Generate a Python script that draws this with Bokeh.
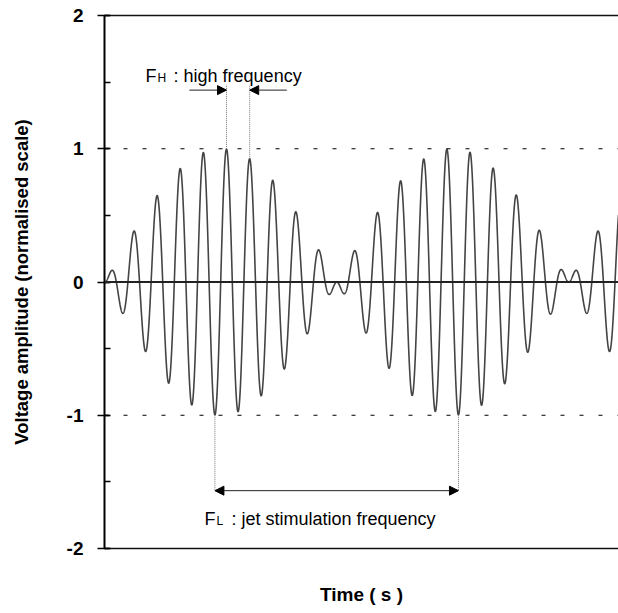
import numpy as np
from bokeh.plotting import figure
from bokeh.models import (Span, Label, Arrow, NormalHead, LinearAxis, SingleIntervalTicker,
                          FixedTicker, Range1d, ColumnDataSource)
from bokeh.embed import file_html
from bokeh.resources import INLINE

# ---- values (time in ms, arbitrary units) ----
T_H = 1.0            # period of the high-frequency carrier (F_H)
T_L = 10.0           # period of the envelope (F_L, jet stimulation)
t_env_max = 5.02     # time of envelope maximum
t_carrier_peak = 5.26  # time of the marked carrier peak
t_start, t_end = 0.0, 22.16
y_ticks = [-2, -1, 0, 1, 2]
y_tick_labels = ["-2", "-1", "0", "1", "2"]
y_ref_lines = [-1, 1]
x_label = "Time ( s )"
y_label = "Voltage amplitude (normalised scale)"
fh_text = ": high frequency"
fl_text = ": jet stimulation frequency"

t = np.linspace(t_start, t_end, 4000)
v = np.cos(2 * np.pi * (t - t_carrier_peak) / T_H) * np.cos(np.pi * (t - t_env_max) / T_L)
src = ColumnDataSource(dict(t=t, v=v))

FONT = "Liberation Sans"

p = figure(width=618, height=613, x_range=Range1d(t_start, t_end), y_range=Range1d(-2, 2),
           output_backend="svg", toolbar_location=None,
           min_border_left=104, min_border_right=0, min_border_top=15, min_border_bottom=65)
p.outline_line_color = None
p.grid.visible = False
p.background_fill_color = "white"
p.border_fill_color = "white"

# x axis (bottom line only, label)
xa = p.xaxis[0]
xa.ticker = FixedTicker(ticks=[])
xa.major_label_text_font_size = "0px"
xa.axis_line_color = "#111111"
xa.axis_line_width = 1.6
xa.axis_label = x_label
xa.axis_label_text_font = FONT
xa.axis_label_text_font_style = "bold"
xa.axis_label_text_font_size = "19px"
xa.axis_label_text_color = "black"
xa.axis_label_standoff = 35

# top line
top = LinearAxis(ticker=FixedTicker(ticks=[]), major_label_text_font_size="0px",
                 axis_line_color="#111111", axis_line_width=1.6)
p.add_layout(top, "above")

# y axis
ya = p.yaxis[0]
ya.ticker = SingleIntervalTicker(interval=1, num_minor_ticks=2)
ya.major_label_overrides = {v_: s for v_, s in zip(y_ticks, y_tick_labels)}
ya.axis_line_color = "black"
ya.axis_line_width = 2
ya.major_tick_line_color = "black"
ya.major_tick_line_width = 1.5
ya.major_tick_in = 5
ya.major_tick_out = 7
ya.minor_tick_line_color = "black"
ya.minor_tick_line_width = 1.5
ya.minor_tick_in = 6
ya.minor_tick_out = 0
ya.major_label_text_font = FONT
ya.major_label_text_font_style = "bold"
ya.major_label_text_font_size = "19px"
ya.major_label_text_color = "black"
ya.major_label_standoff = 14
ya.axis_label = y_label
ya.axis_label_text_font = FONT
ya.axis_label_text_font_style = "bold"
ya.axis_label_text_font_size = "18.5px"
ya.axis_label_text_color = "black"
ya.axis_label_standoff = 32

# reference lines
for yv in y_ref_lines:
    p.add_layout(Span(location=yv, dimension="width", line_color="black", line_width=1,
                      line_dash="4 15"))
p.add_layout(Span(location=0, dimension="width", line_color="#222222", line_width=2.2))

# signal
p.line("t", "v", source=src, line_color="#444444", line_width=1.6)

# ---- F_H annotation ----
def sig(tt):
    return np.cos(2 * np.pi * (tt - t_carrier_peak) / T_H) * np.cos(np.pi * (tt - t_env_max) / T_L)

fh_y = 1.44
fh_top = 1.48
pk1 = t_carrier_peak
pk2 = t_carrier_peak + T_H
p.segment(x0=[pk1, pk2], y0=[sig(pk1), sig(pk2)], x1=[pk1, pk2], y1=[fh_top, fh_top],
          line_color="#777777", line_width=1, line_dash="1 1")
head = lambda: NormalHead(size=9, fill_color="black", line_color="black", line_width=1)
p.add_layout(Arrow(end=head(), x_start=pk1 - 1.6, y_start=fh_y, x_end=pk1, y_end=fh_y,
                   line_color="#222222", line_width=1))
p.add_layout(Arrow(end=head(), x_start=pk2 + 1.6, y_start=fh_y, x_end=pk2, y_end=fh_y,
                   line_color="#222222", line_width=1))

fh_x = 1.77
fh_base = 1.545
p.add_layout(Label(x=fh_x, y=fh_base, text="F", text_font=FONT, text_font_size="18px",
                   text_baseline="alphabetic", text_color="black"))
p.add_layout(Label(x=fh_x, y=fh_base, x_offset=12, y_offset=-2, text="H", text_font=FONT,
                   text_font_size="12px", text_baseline="alphabetic", text_color="black"))
p.add_layout(Label(x=fh_x, y=fh_base, x_offset=28, text=fh_text, text_font=FONT,
                   text_font_size="18px", text_baseline="alphabetic", text_color="black"))

# ---- F_L annotation ----
fl_y = -1.566
tr1 = t_carrier_peak - T_H / 2
tr2 = t_carrier_peak + T_L
p.segment(x0=[tr1, tr2], y0=[sig(tr1), sig(tr2)], x1=[tr1, tr2], y1=[fl_y, fl_y],
          line_color="#777777", line_width=1, line_dash="1 1")
p.add_layout(Arrow(start=head(), end=head(), x_start=tr1, y_start=fl_y, x_end=tr2, y_end=fl_y,
                   line_color="#222222", line_width=1))

fl_x = 4.31
fl_base = -1.78
p.add_layout(Label(x=fl_x, y=fl_base, text="F", text_font=FONT, text_font_size="18px",
                   text_baseline="alphabetic", text_color="black"))
p.add_layout(Label(x=fl_x, y=fl_base, x_offset=12, y_offset=-2, text="L", text_font=FONT,
                   text_font_size="12px", text_baseline="alphabetic", text_color="black"))
p.add_layout(Label(x=fl_x, y=fl_base, x_offset=27, text=fl_text, text_font=FONT,
                   text_font_size="18px", text_baseline="alphabetic", text_color="black"))

open("out.html", "w").write(file_html(p, INLINE))
